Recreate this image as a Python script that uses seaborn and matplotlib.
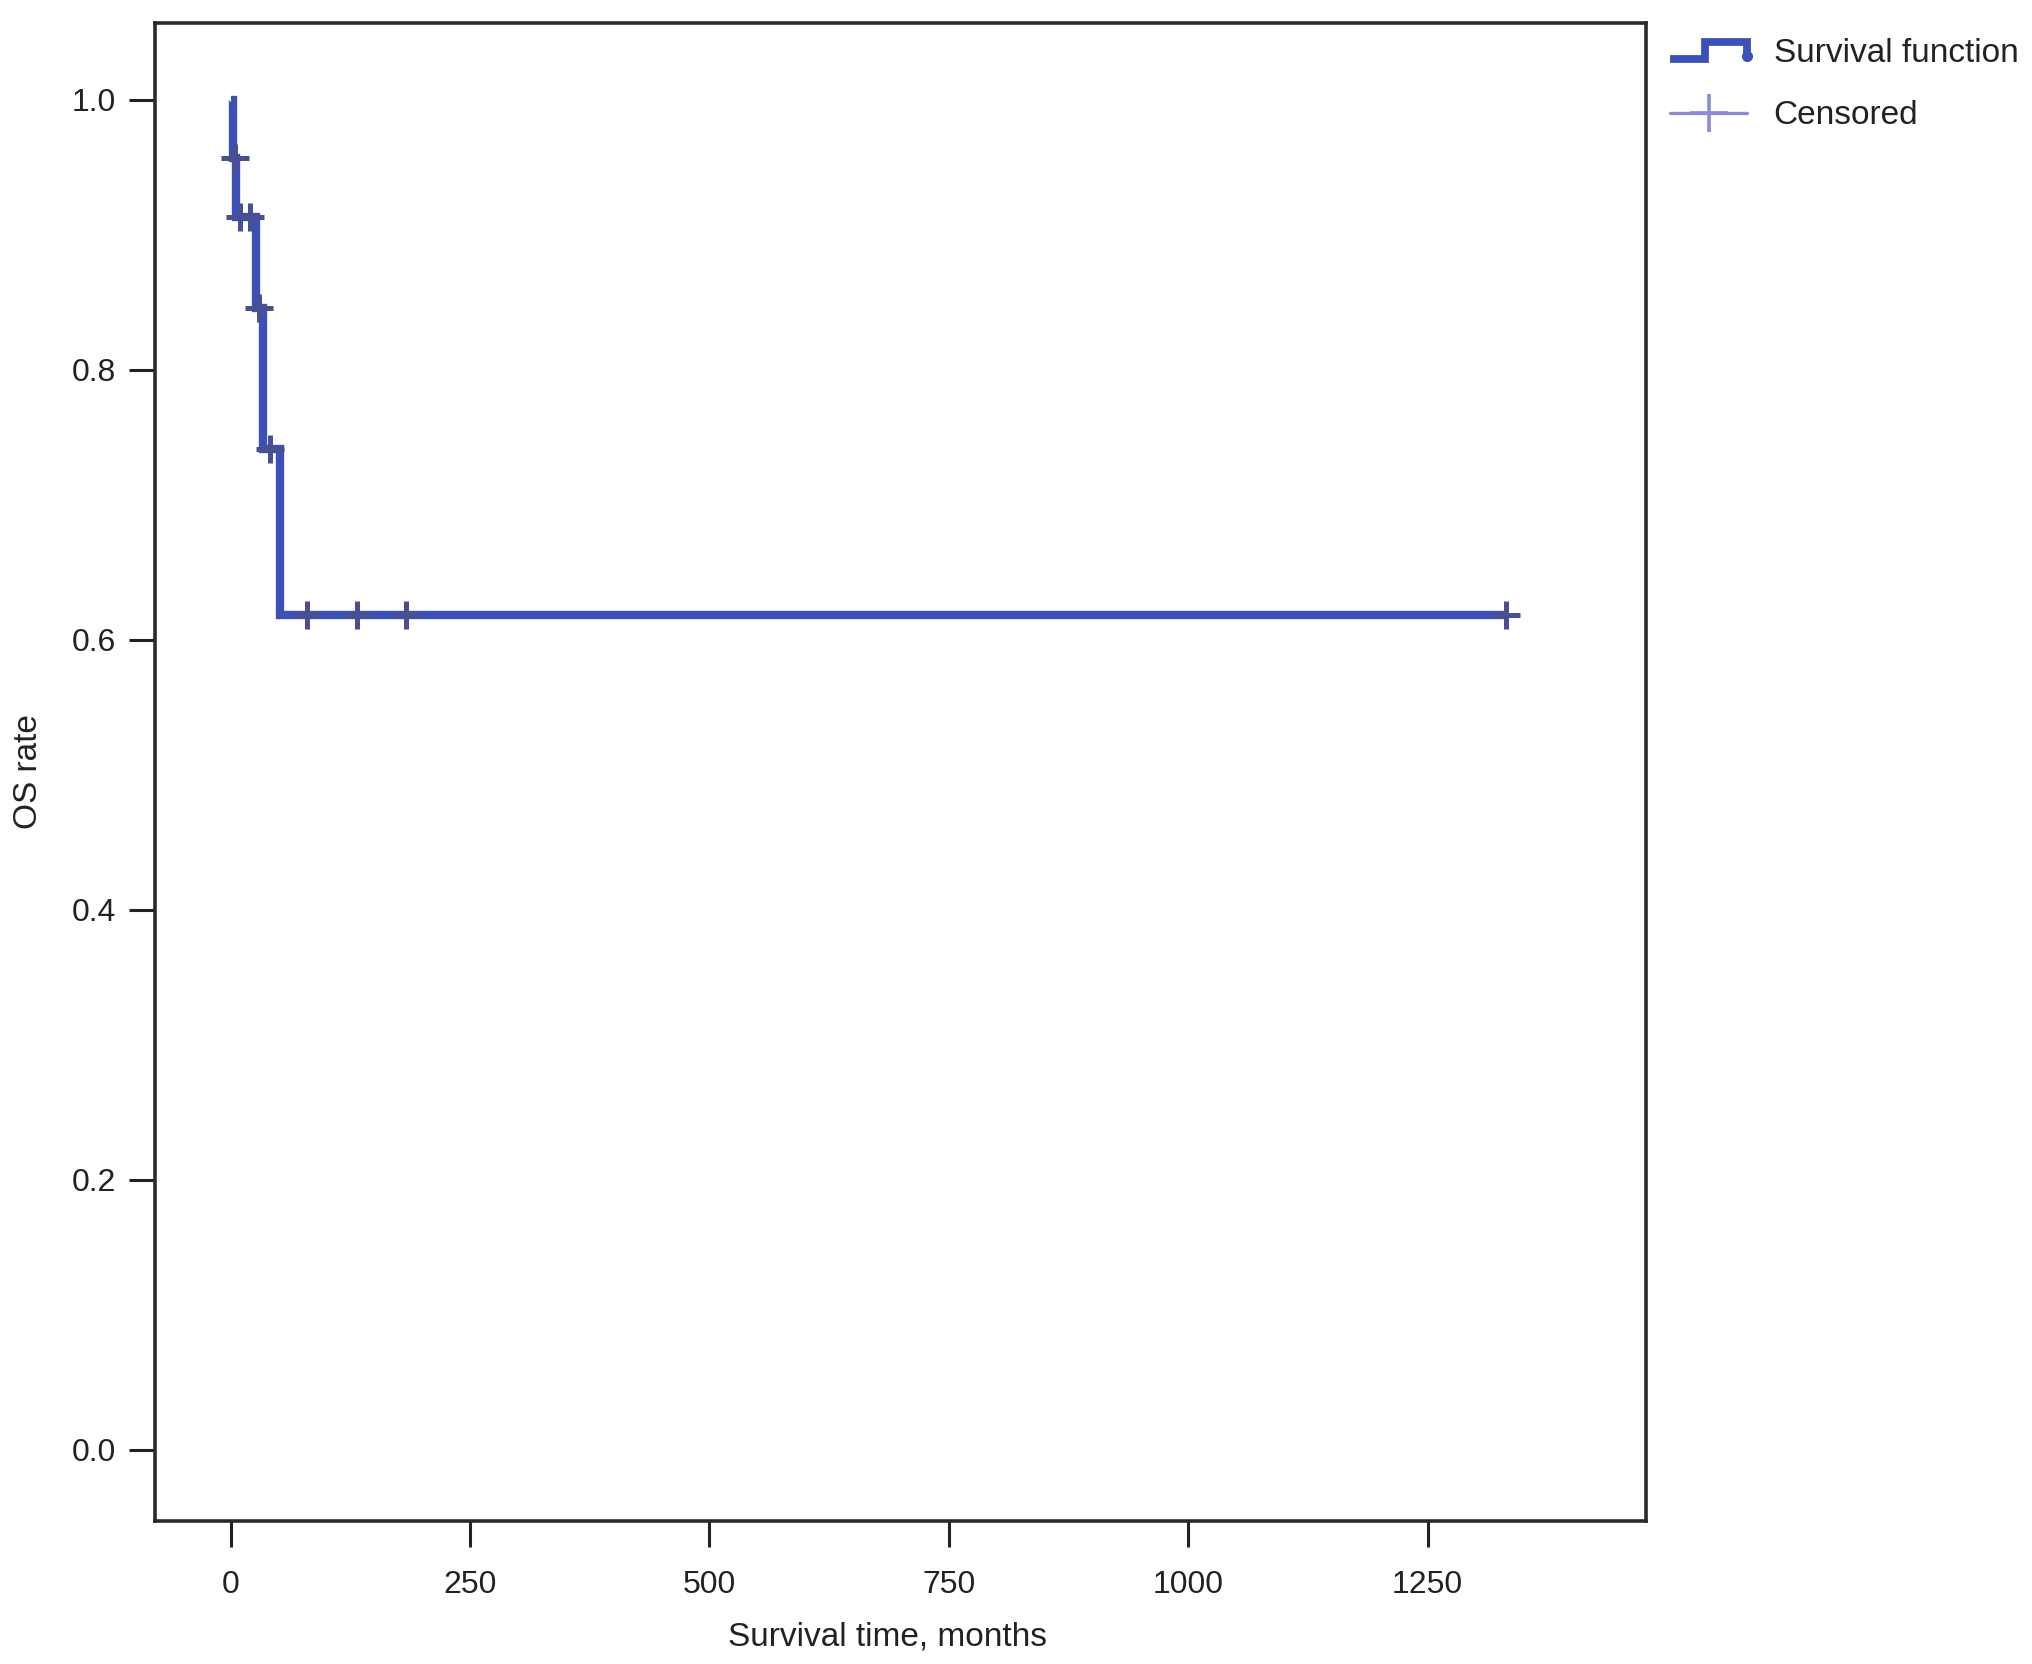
import matplotlib
matplotlib.use("Agg")
import matplotlib.pyplot as plt
from matplotlib.lines import Line2D
from matplotlib.legend_handler import HandlerBase
import seaborn as sns
import pandas as pd

# ---- data ----
step_times = [0, 2, 6, 26, 34, 51, 1332]
step_surv = [1.0, 0.957, 0.913, 0.846, 0.741, 0.618, 0.618]

censored_times = [4, 10, 20, 30, 41, 80, 132, 183, 1332]
censored_surv = [0.957, 0.913, 0.913, 0.846, 0.741, 0.618, 0.618, 0.618, 0.618]

x_ticks = [0, 250, 500, 750, 1000, 1250]
y_ticks = [0.0, 0.2, 0.4, 0.6, 0.8, 1.0]

LINE_COLOR = "#3C51B6"
CENS_COLOR = "#4A4F8E"
LEG_CENS_COLOR = "#8C8CCF"
TEXT_COLOR = "#222222"

sns.set_style("ticks")
plt.rcParams["font.family"] = ["Liberation Sans", "DejaVu Sans"]

fig = plt.figure(figsize=(10.16, 8.32), dpi=200)
ax = fig.add_axes([0.0763, 0.0859, 0.810 - 0.0763, 0.9862 - 0.0859])

curve = pd.DataFrame({"t": step_times, "s": step_surv})
cens = pd.DataFrame({"t": censored_times, "s": censored_surv})

sns.lineplot(data=curve, x="t", y="s", ax=ax, drawstyle="steps-post",
             estimator=None, sort=False, color=LINE_COLOR, linewidth=3.0,
             solid_joinstyle="miter", solid_capstyle="butt", zorder=3)
sns.scatterplot(data=cens, x="t", y="s", ax=ax, marker="+", s=95,
                color=CENS_COLOR, linewidth=1.8, zorder=4)

ax.set_xlim(-79, 1478)
ax.set_ylim(-0.053, 1.057)
ax.set_xticks(x_ticks)
ax.set_xticklabels([str(v) for v in x_ticks])
ax.set_yticks(y_ticks)
ax.set_yticklabels([f"{v:.1f}" for v in y_ticks])

ax.tick_params(axis="both", which="major", length=9.5, width=1.1,
               color="#222222", labelsize=11.5, labelcolor=TEXT_COLOR)
ax.tick_params(axis="x", pad=8)
ax.tick_params(axis="y", pad=4.5)

for sp in ax.spines.values():
    sp.set_visible(True)
    sp.set_color("#2a2a2a")
    sp.set_linewidth(1.3)

ax.set_xlabel("Survival time, months", fontsize=12, color=TEXT_COLOR, labelpad=8)
ax.xaxis.label.set_x(0.491)
ax.set_ylabel("OS rate", fontsize=12, color=TEXT_COLOR, labelpad=10)


class StepHandler(HandlerBase):
    def create_artists(self, legend, orig_handle, xdescent, ydescent,
                       width, height, fontsize, trans):
        x0, y0 = -xdescent, -ydescent
        xs = [x0, x0 + 0.45 * width, x0 + 0.45 * width, x0 + width, x0 + width]
        low = y0 + 0.15 * height
        high = y0 + 0.85 * height
        ys = [low, low, high, high, low + 0.1 * height]
        ln = Line2D(xs, ys, color=LINE_COLOR, lw=2.8, transform=trans,
                    solid_joinstyle="miter", solid_capstyle="butt")
        dot = Line2D([x0 + width], [low + 0.1 * height], marker="o", markersize=3,
                     color=LINE_COLOR, transform=trans)
        return [ln, dot]


surv_handle = Line2D([], [], color=LINE_COLOR)
cens_handle = Line2D([], [], color=LEG_CENS_COLOR, lw=1.2, marker="+",
                     markersize=14, markeredgewidth=1.3)
leg = fig.legend([surv_handle, cens_handle], ["Survival function", "Censored"],
                 handler_map={surv_handle: StepHandler()},
                 loc="upper left", bbox_to_anchor=(0.822, 0.977),
                 frameon=False, fontsize=12, handlelength=2.3,
                 handletextpad=0.8, labelspacing=0.93, borderpad=0,
                 borderaxespad=0)
for t in leg.get_texts():
    t.set_color(TEXT_COLOR)

fig.savefig("out.png", dpi=200, facecolor="white")
